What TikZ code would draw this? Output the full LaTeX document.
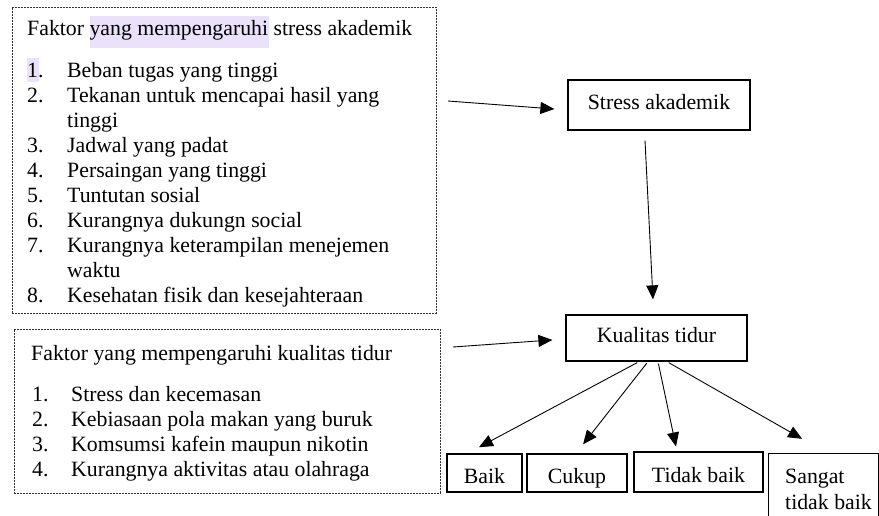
\documentclass[tikz,border=0pt]{standalone}
\usepackage{fontspec}
\setmainfont{Liberation Serif}
\usetikzlibrary{arrows.meta}
\definecolor{sorot}{RGB}{236,225,250}
\tikzset{
  kotakgaris/.style = {draw=black!80, line width=0.8pt, dash pattern=on 2pt off 1pt, inner sep=0pt},
  kotak/.style      = {draw, line width=1.3pt, inner sep=0pt, text height=14pt, text depth=6pt},
  hasil/.style      = {kotak, text height=20pt, text depth=0pt},
  baris/.style      = {anchor=base west, inner sep=0pt},
  panah/.style      = {-{Triangle[length=14pt,width=12pt]}, line width=0.9pt}
}

\begin{document}
\begin{tikzpicture}[x=1pt, y=-1pt, font=\fontsize{21.8}{25}\selectfont]
  \useasboundingbox (0,0) rectangle (879,515);
  \clip (0,0) rectangle (879,515);

  % sorotan
  \fill[sorot] (90,16) rectangle (269,48);
  \fill[sorot] (27,58) rectangle (39,82);

  % faktor stress akademik
  \node[kotakgaris, minimum width=424pt, minimum height=306pt, anchor=north west] (faktorstress) at (12,7) {};
  \node[baris] (judulstress) at (27,35) {Faktor yang mempengaruhi stress akademik};
  \foreach \y/\no/\isi [count=\k] in {77/1./Beban tugas yang tinggi,
      102/2./Tekanan untuk mencapai hasil yang, 127/{}/tinggi,
      152/3./Jadwal yang padat, 177/4./Persaingan yang tinggi,
      202/5./Tuntutan sosial, 227/6./Kurangnya dukungn social,
      252/7./Kurangnya keterampilan menejemen, 277/{}/waktu,
      302/8./Kesehatan fisik dan kesejahteraan}{
    \node[baris] (nostress\k) at (27,\y) {\no};
    \node[baris] (isistress\k) at (67,\y) {\isi};
  }

  % faktor kualitas tidur
  \node[kotakgaris, minimum width=426pt, minimum height=164pt, anchor=north west] (faktortidur) at (14,329) {};
  \node[baris] (judultidur) at (31,360) {Faktor yang mempengaruhi kualitas tidur};
  \foreach \y/\no/\isi [count=\k] in {401/1./Stress dan kecemasan,
      426/2./Kebiasaan pola makan yang buruk,
      451/3./Komsumsi kafein maupun nikotin,
      476/4./Kurangnya aktivitas atau olahraga}{
    \node[baris] (notidur\k) at (32,\y) {\no};
    \node[baris] (isitidur\k) at (71,\y) {\isi};
  }

  % kotak utama
  \node[kotak, minimum width=182pt, minimum height=50pt] (stress) at (659,105) {Stress akademik};
  \node[kotak, minimum width=181pt, minimum height=46pt] (kualitas) at (656.5,338) {Kualitas tidur};

  % hasil
  \node[hasil, minimum width=75pt, minimum height=38pt] (baik) at (484.5,473) {Baik};
  \node[hasil, minimum width=100pt, minimum height=38pt] (cukup) at (577,473) {Cukup};
  \node[hasil, minimum width=129pt, minimum height=40pt] (tidakbaik) at (698.5,472) {Tidak baik};
  \node[kotak, minimum width=110pt, minimum height=80pt, anchor=north west] (sangat) at (768,453) {};
  \node[baris] (sangat1) at (785,483) {Sangat};
  \node[baris] (sangat2) at (785,509) {tidak baik};

  % panah
  \coordinate (ekorstress) at (448,101);
  \coordinate (ekortidur) at (453,347);
  \draw[panah, shorten >=13pt] (ekorstress) -- ([yshift=-5pt]stress.west);
  \draw[panah, shorten >=13pt] (ekortidur) -- ([yshift=-1pt]kualitas.west);
  \draw[panah, shorten <=10pt, shorten >=15pt] ([xshift=-14.5pt]stress.south) -- ([xshift=-2.75pt]kualitas.north);

  \draw[panah, shorten <=2pt, shorten >=13pt] ([xshift=-17.5pt]kualitas.south) -- ([xshift=-17pt]baik.north);
  \draw[panah, shorten <=2pt, shorten >=11.5pt] ([xshift=-8.5pt]kualitas.south) -- ([xshift=-1pt]cukup.north);
  \draw[panah, shorten <=2pt, shorten >=5pt] ([xshift=1.5pt]kualitas.south) -- ([xshift=-21.5pt]tidakbaik.north);
  \draw[panah, shorten <=2pt, shorten >=28.6pt] ([xshift=10.5pt]kualitas.south) -- ([xshift=59pt]sangat.north west);
\end{tikzpicture}
\end{document}
